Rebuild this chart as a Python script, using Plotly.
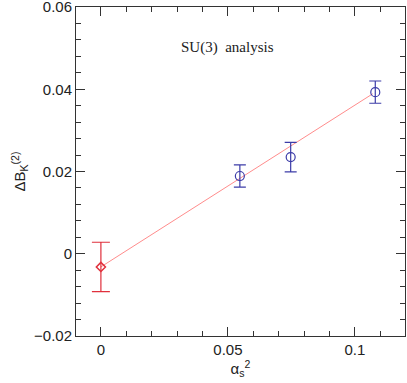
import plotly.graph_objects as go

# continuum-limit point (red) and lattice points (blue)
x_cont = [0.0]
y_cont = [-0.0032]
err_cont = [0.006]

x_lat = [0.0547, 0.0747, 0.108]
y_lat = [0.0189, 0.0235, 0.0393]
err_lat = [0.0027, 0.0036, 0.0027]

# linear fit line
x_fit = [0.0, 0.107]
y_fit = [-0.0032, 0.0389]

red = "#e0303c"
blue = "#3c3ca8"
sans = "Liberation Sans, Arial, sans-serif"
axis_font = dict(family=sans, size=15, color="#222")

fig = go.Figure()
fig.add_trace(go.Scatter(x=x_fit, y=y_fit, mode="lines",
                         line=dict(color="#ff8c8c", width=1),
                         hoverinfo="skip"))
fig.add_trace(go.Scatter(x=x_cont, y=y_cont, mode="markers",
                         marker=dict(symbol="diamond-open", size=7, color=red, line=dict(width=1.5)),
                         error_y=dict(type="data", array=err_cont, color=red, thickness=1.2, width=9)))
fig.add_trace(go.Scatter(x=x_lat, y=y_lat, mode="markers",
                         marker=dict(symbol="circle-open", size=9, color=blue, line=dict(width=1.2)),
                         error_y=dict(type="data", array=err_lat, color=blue, thickness=1.2, width=6)))

fig.add_annotation(x=0.462, y=0.876, xref="paper", yref="paper", text="SU(3)  analysis",
                   showarrow=False, xanchor="center", yanchor="middle",
                   font=dict(family="Liberation Serif, Times New Roman, serif", size=15, color="#222"))

fig.update_layout(
    width=407, height=383,
    margin=dict(l=76, r=2, t=7, b=47),
    paper_bgcolor="white", plot_bgcolor="white",
    showlegend=False,
    xaxis=dict(range=[-0.0098, 0.1197], tickvals=[0, 0.05, 0.1], ticktext=["0", "0.05", "0.1"],
               ticks="inside", ticklen=9, tickcolor="#333", tickwidth=1,
               minor=dict(dtick=0.01, tick0=0, ticks="inside", ticklen=5, tickcolor="#333", showgrid=False),
               showline=True, linecolor="#333", linewidth=1, mirror="ticks",
               showgrid=False, zeroline=False, tickfont=axis_font, automargin=False,
               ticklabeloverflow="allow",
               title=dict(text="α<sub>s</sub><sup>2</sup>", font=dict(family=sans, size=15, color="#222"), standoff=2)),
    yaxis=dict(range=[-0.02, 0.06], tickvals=[-0.02, 0, 0.02, 0.04, 0.06],
               ticktext=["−0.02", "0", "0.02", "0.04", "0.06"],
               ticks="inside", ticklen=9, tickcolor="#333", tickwidth=1,
               minor=dict(dtick=0.004, tick0=0, ticks="inside", ticklen=5, tickcolor="#333", showgrid=False),
               showline=True, linecolor="#333", linewidth=1, mirror="ticks",
               showgrid=False, zeroline=False, tickfont=axis_font, automargin=False,
               ticklabeloverflow="allow",
               title=dict(text="ΔB<sub>K</sub><sup>(2)</sup>", font=dict(family=sans, size=15, color="#222"), standoff=4)),
)

fig.write_html("out.html", config={"displayModeBar": False},
               post_script="document.body.style.margin='0';")
